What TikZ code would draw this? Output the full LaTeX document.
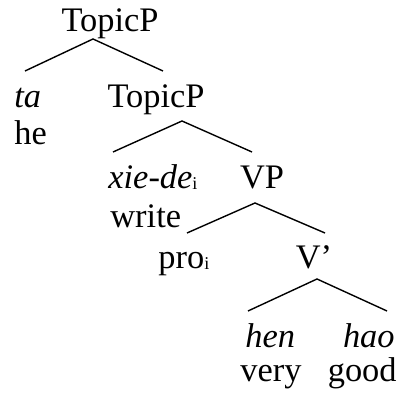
\documentclass[tikz,border=0pt]{standalone}
\usepackage{fontspec}
\setmainfont{Liberation Serif}
\tikzset{
  cat/.style={inner sep=0pt, anchor=base, font=\fontsize{17.2}{20}\selectfont},
  word/.style={inner sep=0pt, anchor=base west, font=\fontsize{17.2}{20}\selectfont\itshape},
  gloss/.style={inner sep=0pt, anchor=base west, font=\fontsize{17.2}{20}\selectfont},
  branch/.style={line width=0.7pt, draw=black}
}
\newcommand{\idx}{\raisebox{-0.5pt}{\fontsize{9}{10}\selectfont\upshape i}}

\begin{document}
\begin{tikzpicture}[x=0.5pt, y=-0.5pt]
  \useasboundingbox (0,0) rectangle (401,394);

  % categories
  \node[cat] (topA) at (110,32) {TopicP};
  \node[cat] (topB) at (156,108) {TopicP};
  \node[cat] (vp) at (262,189) {VP};
  \node[cat] (vbar) at (314,269) {V’};

  % words and glosses
  \node[word] (ta) at (14,108) {ta};
  \node[gloss] (he) at (14,145) {he};
  \node[word] (xiede) at (108,189) {xie-de\idx};
  \node[gloss] (write) at (110,228) {write};
  \node[gloss] (pro) at (158,269) {pro\idx};
  \node[word] (hen) at (245,348) {hen};
  \node[word, anchor=base east] (hao) at (395,348) {hao};
  \node[gloss] (very) at (240,382) {very};
  \node[gloss, anchor=base east] (good) at (397,382) {good};

  % branch points
  \coordinate (topAroot) at (93,39);
  \coordinate (topAl) at (25,71);
  \coordinate (topAr) at (163,71);
  \coordinate (topBroot) at (182,121);
  \coordinate (topBl) at (113,152);
  \coordinate (topBr) at (252,152);
  \coordinate (vproot) at (255,203);
  \coordinate (vpl) at (187,233);
  \coordinate (vpr) at (325,233);
  \coordinate (vbarroot) at (317,279);
  \coordinate (vbarl) at (248,311);
  \coordinate (vbarr) at (387,311);

  \draw[branch] (topAl) -- (topAroot) -- (topAr);
  \draw[branch] (topBl) -- (topBroot) -- (topBr);
  \draw[branch] (vpl) -- (vproot) -- (vpr);
  \draw[branch] (vbarl) -- (vbarroot) -- (vbarr);
\end{tikzpicture}
\end{document}
